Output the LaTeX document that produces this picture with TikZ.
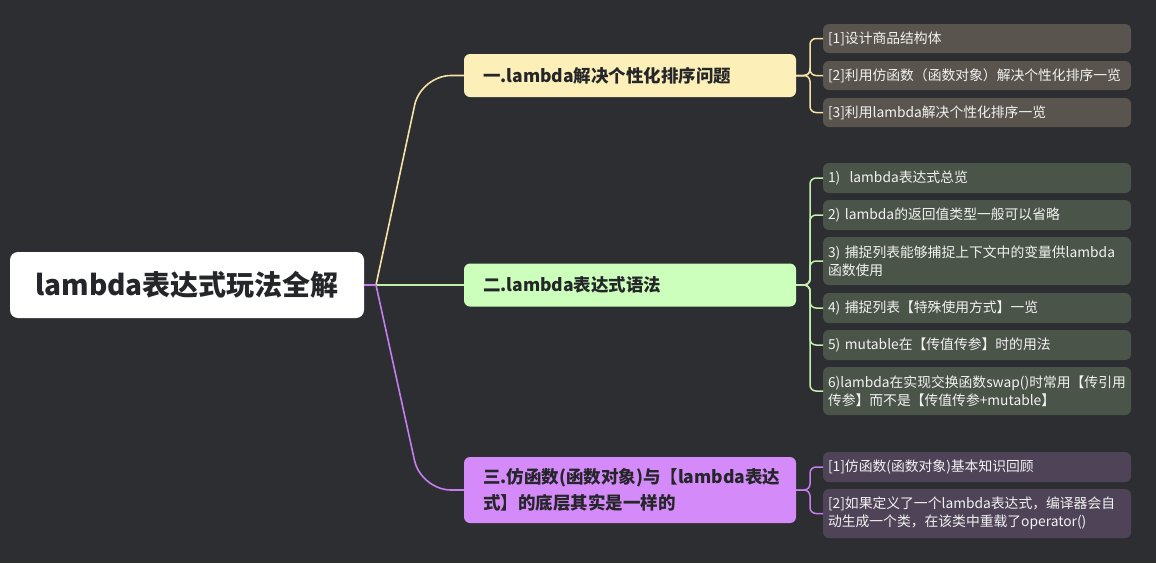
\documentclass[tikz,border=0pt]{standalone}
\usepackage{fontspec}
\setmainfont{Noto Sans CJK SC}

\definecolor{bgcol}{HTML}{2D2E32}
\definecolor{inkcol}{HTML}{25262A}
\definecolor{yfill}{HTML}{FDEFB8}
\definecolor{yline}{HTML}{F5E3A3}
\definecolor{gfill}{HTML}{CCFFBB}
\definecolor{gline}{HTML}{C4EEAC}
\definecolor{pfill}{HTML}{D48AF8}
\definecolor{pline}{HTML}{C77CF0}
\definecolor{ysub}{HTML}{59554E}
\definecolor{gsub}{HTML}{4B5449}
\definecolor{psub}{HTML}{4F4358}

\tikzset{
  rootbox/.style={anchor=north west, fill=white, rounded corners=8pt,
    minimum width=354pt, minimum height=66pt, inner sep=0pt, outer sep=0pt,
    text=inkcol, font=\fontsize{28}{34}\selectfont\bfseries},
  topicbox/.style={anchor=north west, rounded corners=6pt,
    inner xsep=19pt, inner ysep=0pt, outer sep=0pt, text width=294pt,
    align=left, text=inkcol, font=\fontsize{17.5}{26}\selectfont\bfseries},
  subbox/.style={anchor=north west, rounded corners=6pt,
    inner xsep=5pt, inner ysep=0pt, outer sep=0pt, text width=298pt,
    align=left, text=white!95!black, font=\fontsize{13.8}{18}\selectfont},
  link/.style={line width=1.6pt},
  fork/.style={line width=1.5pt, rounded corners=6pt}
}

\begin{document}
\begin{tikzpicture}[x=1pt,y=-1pt]
\fill[bgcol] (0,0) rectangle (1156,563);
\useasboundingbox (0,0) rectangle (1156,563);

% root and main topics
\node[rootbox] (root) at (10,252) {lambda表达式玩法全解};
\node[topicbox, fill=yfill, minimum height=43pt] (t1) at (464,54) {一.lambda解决个性化排序问题};
\node[topicbox, fill=gfill, minimum height=43pt] (t2) at (464,263.5) {二.lambda表达式语法};
\node[topicbox, fill=pfill, minimum height=66pt] (t3) at (464,457) {三.仿函数(函数对象)与【lambda表达\\式】的底层其实是一样的};
\coordinate (hub) at ([xshift=12pt]root.east);

% subtopics
\node[subbox, fill=ysub, minimum height=29pt] (s11) at (823,24) {[1]设计商品结构体};
\node[subbox, fill=ysub, minimum height=29pt] (s12) at (823,61) {[2]利用仿函数（函数对象）解决个性化排序一览};
\node[subbox, fill=ysub, minimum height=29pt] (s13) at (823,98) {[3]利用lambda解决个性化排序一览};

\node[subbox, fill=gsub, minimum height=30pt] (s21) at (823,163) {1)~ lambda表达式总览};
\node[subbox, fill=gsub, minimum height=30pt] (s22) at (823,200) {2) lambda的返回值类型一般可以省略};
\node[subbox, fill=gsub, minimum height=48pt] (s23) at (823,237) {3) 捕捉列表能够捕捉上下文中的变量供lambda\\函数使用};
\node[subbox, fill=gsub, minimum height=30pt] (s24) at (823,293) {4) 捕捉列表【特殊使用方式】一览};
\node[subbox, fill=gsub, minimum height=30pt] (s25) at (823,330) {5) mutable在【传值传参】时的用法};
\node[subbox, fill=gsub, minimum height=48pt] (s26) at (823,367) {6)lambda在实现交换函数swap()时常用【传引用\\传参】而不是【传值传参+mutable】};

\node[subbox, fill=psub, minimum height=30pt] (s31) at (823,452) {[1]仿函数(函数对象)基本知识回顾};
\node[subbox, fill=psub, minimum height=49pt] (s32) at (823,489) {[2]如果定义了一个lambda表达式，编译器会自\\动生成一个类，在该类中重载了operator()};

% root to topics
\draw[link, yline, rounded corners=30pt] (hub) -- ([xshift=-43pt]t1.west) -- (t1.west);
\draw[link, gline] (hub) -- (t2.west);
\draw[link, pline, rounded corners=30pt] (hub) -- ([xshift=-43pt]t3.west) -- (t3.west);
\draw[link, pline] (root.east) -- (hub);

% topics to subtopics
\foreach \s in {s11,s12,s13}
  \draw[fork, yline] (t1.east) -- ++(14,0) |- (\s.west);
\foreach \s in {s21,s22,s23,s24,s25,s26}
  \draw[fork, gline] (t2.east) -- ++(14,0) |- (\s.west);
\foreach \s in {s31,s32}
  \draw[fork, pline] (t3.east) -- ++(14,0) |- (\s.west);
\end{tikzpicture}
\end{document}
